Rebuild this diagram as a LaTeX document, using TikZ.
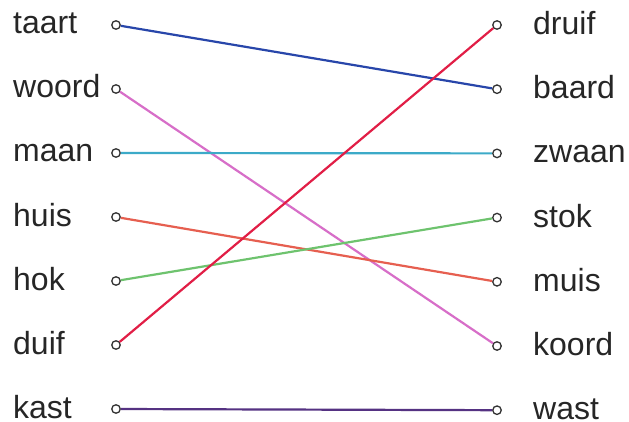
\documentclass[tikz,border=0pt]{standalone}
\usepackage{fontspec}
\setmainfont{Liberation Sans}
\usepackage{tikz}

\definecolor{tablue}{RGB}{40,70,170}
\definecolor{wopink}{RGB}{215,110,200}
\definecolor{macyan}{RGB}{60,170,200}
\definecolor{hured}{RGB}{230,95,80}
\definecolor{hogreen}{RGB}{110,195,110}
\definecolor{dured}{RGB}{225,30,70}
\definecolor{kapurple}{RGB}{85,50,130}

\begin{document}
\begin{tikzpicture}[x=1pt,y=-1pt]
    \tikzstyle{dot}=[circle, draw=gray!40!black, fill=white, line width=1.3pt, minimum size=8.5pt, inner sep=0pt]
    \tikzstyle{word}=[anchor=base west, inner sep=0pt, text depth=0pt, text=black!85, font=\fontsize{32}{32}\selectfont]
    \tikzstyle{pair}=[line width=2.2pt]

    \useasboundingbox (0,0) rectangle (629,422);

    % left column
    \foreach \w [count=\i] in {taart,woord,maan,huis,hok,duif,kast}
      {\node[dot] (l\i) at (116,{25+64*(\i-1)}) {};
       \node[word] (lw\i) at (13,{34+64*(\i-1)}) {\w};}

    % right column
    \foreach \w [count=\i] in {druif,baard,zwaan,stok,muis,koord,wast}
      {\node[dot] (r\i) at (497,{25+64.2*(\i-1)}) {};
       \node[word] (rw\i) at (533,{35+64*(\i-1)}) {\w};}

    % connections
    \foreach \a/\b/\c in {1/2/tablue,2/6/wopink,3/3/macyan,4/5/hured,5/4/hogreen,6/1/dured,7/7/kapurple}
      {\draw[pair,\c] (l\a) -- (r\b);}
  \end{tikzpicture}
\end{document}
